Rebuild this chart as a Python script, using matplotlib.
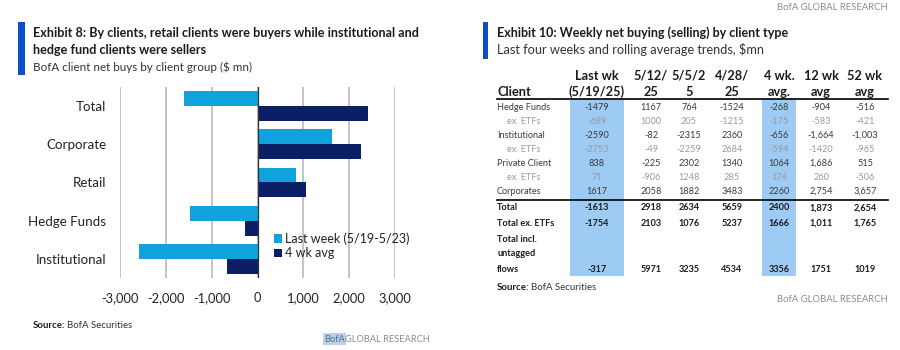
import matplotlib
matplotlib.use("Agg")
import matplotlib.pyplot as plt
from matplotlib.patches import Rectangle

plt.rcParams['font.family'] = ['Lato', 'DejaVu Sans']

# ---------------- data ----------------
categories = ["Total", "Corporate", "Retail", "Hedge Funds", "Institutional"]
last_week = [-1613, 1617, 838, -1479, -2590]
avg_4wk = [2400, 2260, 1064, -268, -656]
x_ticks = [-3000, -2000, -1000, 0, 1000, 2000, 3000]
series_labels = ["Last week (5/19-5/23)", "4 wk avg"]

hdr_top = ["Last wk", "5/12/", "5/5/2", "4/28/", "4 wk.", "12 wk", "52 wk"]
hdr_bot = ["(5/19/25)", "25", "5", "25", "avg.", "avg", "avg"]
row_labels = ["Hedge Funds", "ex. ETFs", "Institutional", "ex. ETFs",
              "Private Client", "ex. ETFs", "Corporates",
              "Total", "Total ex. ETFs", "flows"]
row_kind = ["n", "x", "n", "x", "n", "x", "n", "b", "b", "b"]
row_values = [
    ["-1479", "1167", "764", "-1524", "-268", "-904", "-516"],
    ["-689", "1000", "205", "-1215", "-175", "-583", "-421"],
    ["-2590", "-82", "-2315", "2360", "-656", "-1,664", "-1,003"],
    ["-2753", "-49", "-2259", "2684", "-594", "-1420", "-965"],
    ["838", "-225", "2302", "1340", "1064", "1,686", "515"],
    ["71", "-906", "1248", "285", "174", "260", "-506"],
    ["1617", "2058", "1882", "3483", "2260", "2,754", "3,657"],
    ["-1613", "2918", "2634", "5659", "2400", "1,873", "2,654"],
    ["-1754", "2103", "1076", "5237", "1666", "1,011", "1,765"],
    ["-317", "5971", "3235", "4534", "3356", "1751", "1019"],
]
highlight_cols = [0, 4]

# ---------------- style ----------------
LIGHT = '#10A2DC'
DARK = '#0A1F66'
ACCENT = '#0D4FC4'
HL = '#9DCBF3'
TXT = '#1c1c1c'
GREY = '#8c8c8c'

fig = plt.figure(figsize=(9, 3.5), dpi=100)
fig.patch.set_facecolor('white')

# ---------------- left bar chart ----------------
ax = fig.add_axes([120/900, 1-278/350, 275/900, 191/350])
n = len(categories)
ypos = list(range(n))
h = 0.39
ax.barh([y - h/2 for y in ypos], last_week, height=h, color=LIGHT, label=series_labels[0], zorder=3)
ax.barh([y + h/2 for y in ypos], avg_4wk, height=h, color=DARK, label=series_labels[1], zorder=3)
ax.set_xlim(-3000, 3000)
ax.set_ylim(n - 0.5, -0.5)
ax.set_yticks(ypos)
ax.set_yticklabels(categories, fontsize=9.6, color='#222222')
ax.set_xticks(x_ticks)
ax.set_xticklabels([f"{v:,}" for v in x_ticks], fontsize=9.3, color='#222222')
ax.tick_params(axis='y', length=0, pad=10)
ax.tick_params(axis='x', length=0, pad=10)
for s in ax.spines.values():
    s.set_visible(False)
ax.grid(axis='x', color='#c4c4c4', linewidth=1.4, zorder=0)
ax.axvline(0, color='#333333', linewidth=0.9, zorder=4)
leg = ax.legend(loc='upper left', bbox_to_anchor=(0.54, 0.265), frameon=False,
                fontsize=9, handlelength=0.7, handleheight=0.7,
                handletextpad=0.25, labelspacing=0.2, borderaxespad=0)
for t in leg.get_texts():
    t.set_color('#222222')

# ---------------- overlay for text / table ----------------
ov = fig.add_axes([0, 0, 1, 1], zorder=-1)
ov.set_xlim(0, 900)
ov.set_ylim(350, 0)
ov.axis('off')

# left titles
ov.add_patch(Rectangle((18, 22), 7, 53, color=ACCENT, lw=0))
ov.text(33, 33, "Exhibit 8: By clients, retail clients were buyers while institutional and",
        fontsize=9.1, fontweight='bold', color=TXT, va='center', ha='left')
ov.text(33, 50, "hedge fund clients were sellers",
        fontsize=9.1, fontweight='bold', color=TXT, va='center', ha='left')
ov.text(33, 67, "BofA client net buys by client group ($ mn)",
        fontsize=8.4, color='#333333', va='center', ha='left')
ov.text(33, 326, "Source:", fontsize=6.9, fontweight='bold', color=TXT, va='center', ha='left')
ov.text(67, 326, "BofA Securities", fontsize=6.9, color='#333333', va='center', ha='left')
ov.text(324, 339, "BofA", fontsize=6.7, color='#4a6f9a', va='center', ha='left',
        bbox=dict(boxstyle='square,pad=0.12', fc='#bcd0e6', ec='none'))
ov.text(345, 339, "GLOBAL RESEARCH", fontsize=6.7, color=GREY, va='center', ha='left')

# right titles
ov.text(888, 8, "BofA GLOBAL RESEARCH", fontsize=6.8, color=GREY, va='center', ha='right')
ov.add_patch(Rectangle((483, 22), 5, 37, color=ACCENT, lw=0))
ov.text(497, 33, "Exhibit 10: Weekly net buying (selling) by client type",
        fontsize=9, fontweight='bold', color=TXT, va='center', ha='left')
ov.text(497, 50, "Last four weeks and rolling average trends, $mn",
        fontsize=9.2, color='#333333', va='center', ha='left')

# table layout
col_x = [597, 651, 689, 732, 779, 821, 865]
col_hw = [27, 0, 0, 0, 17, 0, 0]
row_y = [107, 121, 135, 149, 163, 177, 191, 208, 223, 269]
x_left = 497
hdr_fs = 9.2
fs = 6.6

for ci in highlight_cols:
    ov.add_patch(Rectangle((col_x[ci] - col_hw[ci], 99), 2 * col_hw[ci], 177,
                           color=HL, lw=0, zorder=0))

for ci in range(len(hdr_top)):
    ov.text(col_x[ci], 76, hdr_top[ci], fontsize=hdr_fs, fontweight='bold', color=TXT,
            ha='center', va='center')
    ov.text(col_x[ci], 92, hdr_bot[ci], fontsize=hdr_fs, fontweight='bold', color=TXT,
            ha='center', va='center')
ov.text(x_left, 92, "Client", fontsize=hdr_fs, fontweight='bold', color=TXT, ha='left', va='center')
ov.plot([x_left, 888], [98.5, 98.5], color='black', lw=1.2)
ov.plot([x_left, 888], [200, 200], color='black', lw=1.2)

for ri, (lab, kind, vals) in enumerate(zip(row_labels, row_kind, row_values)):
    y = row_y[ri]
    if kind == 'x':
        col, wt, lx = '#9a9a9a', 'normal', 507
    elif kind == 'b':
        col, wt, lx = TXT, 'bold', x_left
    else:
        col, wt, lx = '#3a3a3a', 'normal', x_left
    ov.text(lx, y, lab, fontsize=fs, color=col, fontweight=wt, ha='left', va='center')
    for ci, v in enumerate(vals):
        ov.text(col_x[ci], y, v, fontsize=fs, color=col, fontweight=wt, ha='center', va='center')

ov.text(x_left, 239, "Total incl.", fontsize=fs, color=TXT, fontweight='bold', ha='left', va='center')
ov.text(x_left, 254, "untagged", fontsize=fs, color=TXT, fontweight='bold', ha='left', va='center')

ov.text(x_left, 288, "Source:", fontsize=6.9, fontweight='bold', color=TXT, va='center', ha='left')
ov.text(x_left + 34, 288, "BofA Securities", fontsize=6.9, color='#333333', va='center', ha='left')
ov.text(888, 300, "BofA GLOBAL RESEARCH", fontsize=6.8, color=GREY, va='center', ha='right')

fig.savefig("out.png", dpi=100, facecolor='white')
